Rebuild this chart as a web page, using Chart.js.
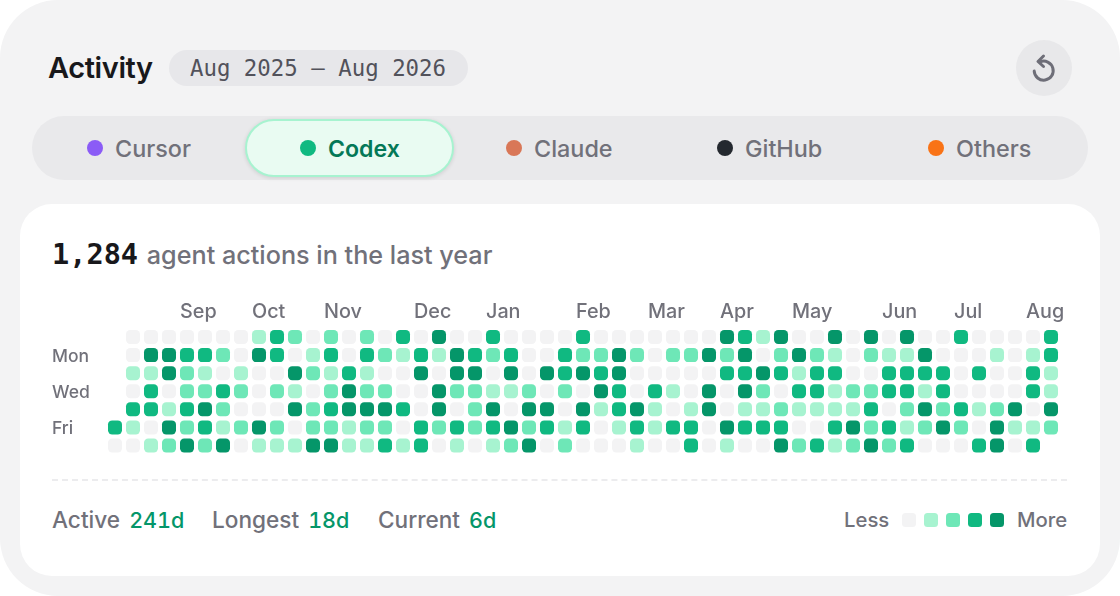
<!DOCTYPE html>
<html lang="en">
<head>
<meta charset="UTF-8">
<title>Activity</title>
<script src="https://cdn.jsdelivr.net/npm/chart.js"></script>
<style>
    html, body { margin: 0; padding: 0; background: #fff; }
    body { width: 1120px; height: 596px; overflow: hidden; position: relative; font-family: Inter, "Noto Sans", sans-serif; color: #71717a; }
    .abs { position: absolute; white-space: nowrap; }
    .outer { left: 0; top: 0; width: 1120px; height: 596px; background: #f3f3f4; border-radius: 58px; }
    .title { left: 48px; top: 49px; font-size: 29px; line-height: 38px; font-weight: 600; color: #18181b; letter-spacing: -0.4px; }
    .chip { left: 169px; top: 50px; width: 298px; height: 36px; line-height: 36px; text-align: center; background: #e7e7ea; border-radius: 18px; font-family: "DejaVu Sans Mono", monospace; font-size: 22.4px; color: #52525b; padding-right: 1px; }
    .reset { left: 1016px; top: 40px; width: 56px; height: 56px; border-radius: 50%; background: #e8e8ea; }
    .tabs { left: 32px; top: 116px; width: 1056px; height: 64px; background: #e9e9eb; border-radius: 32px; }
    .pill { left: 245px; top: 119px; width: 205px; height: 54px; background: #e9fbf2; border: 2px solid #a7f3d0; border-radius: 29px; box-shadow: 0 1px 4px rgba(0,0,0,.12); }
    .dot { top: 140px; width: 16px; height: 16px; border-radius: 50%; }
    .tab { top: 134px; font-size: 23.4px; line-height: 30px; font-weight: 500; }
    .card { left: 20px; top: 204px; width: 1080px; height: 372px; background: #fff; border-radius: 32px; }
    .total { left: 52px; top: 237px; font-size: 25.2px; line-height: 34px; font-weight: 500; }
    .total b { font-family: "DejaVu Sans Mono", monospace; font-size: 28.6px; color: #18181b; font-weight: 700; margin-right: 2px; }
    .rule { left: 52px; top: 479px; width: 1015px; height: 0; border-top: 2px dashed #ececee; }
    .stat { top: 506px; font-size: 22.6px; line-height: 28px; font-weight: 500; }
    .stat span { color: #059669; margin-left: 3px; font-size: 21.5px; font-variant-numeric: tabular-nums; font-feature-settings: "tnum"; }
    .key { top: 506px; font-size: 20.3px; line-height: 28px; font-weight: 500; }
    .swatch { top: 513px; width: 14px; height: 14px; border-radius: 3.5px; }
    #heatmap { position: absolute; left: 52px; top: 290px; }
</style>
</head>
<body>
    <div class="abs outer"></div>
    <div class="abs title">Activity</div>
    <div class="abs chip">Aug 2025 — Aug 2026</div>
    <div class="abs reset">
        <svg width="56" height="56" viewBox="0 0 56 56" fill="none" stroke="#6e6e78" stroke-width="3" stroke-linecap="round" stroke-linejoin="round">
            <path d="M24 21.9 A9.5 9.5 0 1 1 18.2 31"/>
            <path d="M27.5 16 L22 21.5 L27.5 26.5"/>
        </svg>
    </div>

    <div class="abs tabs"></div>
    <div class="abs pill"></div>
    <div id="tabs"></div>

    <div class="abs card"></div>
    <div class="abs total"><b>1,284</b> agent actions in the last year</div>
    <canvas id="heatmap" width="1028" height="178"></canvas>
    <div class="abs rule"></div>

    <div class="abs stat" style="left:52px">Active <span>241d</span></div>
    <div class="abs stat" style="left:212px">Longest <span>18d</span></div>
    <div class="abs stat" style="left:378px">Current <span>6d</span></div>
    <div class="abs key" style="left:844px">Less</div>
    <div id="legend"></div>
    <div class="abs key" style="left:1017px">More</div>

<script>
    // activity level per week (0-4), one array per weekday, null = outside the range
    const sun = [null,0,0,0,0,0,0,0,1,3,2,0,2,0,2,0,3,0,4,0,0,3,0,0,0,0,3,0,0,0,0,0,0,0,4,3,1,4,0,0,4,0,4,0,4,0,0,3,0,0,0,0,3];
    const mon = [null,0,4,4,3,3,2,0,4,3,0,1,3,0,3,2,1,3,1,4,3,2,3,0,0,3,2,2,4,2,0,2,2,4,2,4,0,2,4,2,1,0,2,1,1,4,0,0,0,1,0,1,3];
    const tue = [null,1,1,4,2,1,0,1,0,0,4,2,1,3,1,0,0,4,0,4,4,0,4,0,4,3,4,3,4,0,0,0,0,0,3,3,4,3,1,3,3,0,0,3,3,3,3,0,3,0,0,3,1];
    const wed = [null,0,3,0,2,2,3,2,0,2,1,0,2,4,2,2,0,0,4,2,2,1,1,2,0,2,0,4,3,0,3,1,0,4,0,4,2,0,3,3,1,2,2,3,3,1,3,0,0,0,0,3,1];
    const thu = [null,3,3,1,3,4,2,0,0,0,4,2,3,4,4,4,3,0,4,0,2,4,0,4,4,0,4,1,3,4,1,0,1,4,0,1,1,2,1,1,1,1,3,0,2,4,2,3,1,2,4,0,4];
    const fri = [3,1,0,4,2,3,1,2,4,2,0,2,2,1,2,2,0,3,2,3,2,3,4,2,3,1,3,0,1,3,1,3,3,0,4,3,3,3,0,0,3,4,2,3,1,2,4,2,0,4,1,1,2];
    const sat = [0,0,1,2,4,2,4,0,1,1,1,4,4,1,1,3,1,3,0,1,0,1,2,4,0,2,0,0,0,1,0,0,3,0,1,0,0,4,2,3,1,2,4,2,3,0,0,0,3,4,0,3,null];

    const monthLabels = ['Sep','Oct','Nov','Dec','Jan','Feb','Mar','Apr','May','Jun','Jul','Aug'];
    const monthWeeks = [4,8,12,17,21,26,30,34,38,43,47,51];
    const dayLabels = ['Sun','Mon','Tue','Wed','Thu','Fri','Sat'];
    const dayTicks = [1,3,5];
    const levelColors = ['#f3f3f4','#a7f3d0','#6ee7b7','#10b981','#059669'];

    const tabNames = ['Cursor','Codex','Claude','GitHub','Others'];
    const tabColors = ['#8b5cf6','#10b981','#d97757','#24292f','#f97316'];
    const tabDotX = [87,300,506,717,928];

    // header tabs
    const tabsEl = document.getElementById('tabs');
    tabNames.forEach((name, i) => {
        const active = name === 'Codex';
        tabsEl.insertAdjacentHTML('beforeend',
            `<div class="abs dot" style="left:${tabDotX[i]}px;background:${tabColors[i]}"></div>` +
            `<div class="abs tab" style="left:${tabDotX[i] + 28}px;${active ? 'color:#047857;font-weight:600;font-size:23.1px' : ''}">${name}</div>`);
    });

    // Less / More swatches
    const legendEl = document.getElementById('legend');
    levelColors.forEach((c, i) => {
        legendEl.insertAdjacentHTML('beforeend', `<div class="abs swatch" style="left:${902 + i * 22}px;background:${c}"></div>`);
    });

    const rows = [sun, mon, tue, wed, thu, fri, sat];
    const cells = [];
    rows.forEach((row, day) => {
        row.forEach((level, week) => {
            if (level !== null) cells.push({ x: week, y: day, level: level });
        });
    });

    new Chart(document.getElementById('heatmap'), {
        type: 'scatter',
        data: {
            datasets: [{
                data: cells,
                pointStyle: 'rectRounded',
                pointRadius: 8.16,
                pointHoverRadius: 8.16,
                pointBorderWidth: 0,
                backgroundColor: ctx => levelColors[ctx.raw.level]
            }]
        },
        options: {
            responsive: false,
            animation: false,
            events: [],
            layout: { padding: { right: 20, bottom: 6 } },
            plugins: { legend: { display: false }, tooltip: { enabled: false } },
            scales: {
                x: {
                    type: 'linear',
                    position: 'top',
                    min: -0.5,
                    max: 52.5,
                    grid: { display: false, drawTicks: false },
                    border: { display: false },
                    afterBuildTicks: axis => { axis.ticks = monthWeeks.map(v => ({ value: v })); },
                    afterFit: axis => { axis.height = 38; },
                    ticks: {
                        autoSkip: false,
                        maxRotation: 0,
                        align: 'start',
                        labelOffset: -7,
                        padding: 4,
                        color: '#71717a',
                        font: { family: 'Inter', size: 19.8, weight: '500' },
                        callback: v => monthLabels[monthWeeks.indexOf(v)]
                    }
                },
                y: {
                    type: 'linear',
                    reverse: true,
                    min: -0.5,
                    max: 6.5,
                    grid: { display: false },
                    border: { display: false },
                    afterBuildTicks: axis => { axis.ticks = dayTicks.map(v => ({ value: v })); },
                    afterFit: axis => { axis.width = 54; },
                    ticks: {
                        autoSkip: false,
                        crossAlign: 'far',
                        labelOffset: 1.5,
                        color: '#71717a',
                        font: { family: 'Inter', size: 17.5, weight: '500' },
                        callback: v => dayLabels[v]
                    }
                }
            }
        }
    });
</script>
</body>
</html>
